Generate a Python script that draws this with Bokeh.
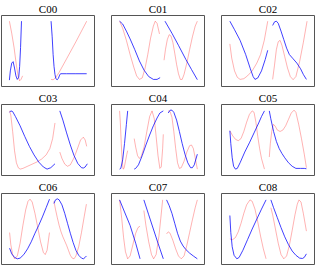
from bokeh.plotting import figure
from bokeh.layouts import gridplot
from bokeh.models import Range1d
from bokeh.embed import file_html
from bokeh.resources import INLINE

titles = ["C00", "C01", "C02", "C03", "C04", "C05", "C06", "C07", "C08"]

c00_blue = [
    [(8.5, 9), (9.5, 22), (11, 33), (12.5, 35), (14, 26), (15.5, 15), (17, 10), (18.5, 13), (19.5, 28), (20.5, 55), (21.5, 92)],
    [(53.3, 92), (54.5, 70), (55.5, 45), (56.5, 28), (57.5, 17), (58.5, 11), (59.8, 9.5), (61, 11), (62.5, 16), (63.5, 18), (70, 18), (80, 18), (91.6, 18)],
]
c00_red = [
    [(8.5, 92), (11, 75), (13.5, 55), (16, 30), (18, 14), (19.5, 8), (21, 10), (22.7, 15)],
    [(53.3, 10), (55.5, 9.5), (58, 12), (62, 20), (70, 39), (80, 63), (91.6, 92)],
]
c01_blue = [
    [(8.7, 92), (12, 88), (16, 78), (20, 67), (25, 52), (30, 36), (35, 23), (40, 14), (45, 10), (49, 10), (52.3, 12.5)],
    [(57.5, 92), (65, 75), (72, 58), (80, 38), (86, 24), (92.3, 9.6)],
]
c01_red = [
    [(8.7, 92), (12, 82), (16, 65), (20, 45), (24, 27), (27, 15), (30, 10), (33, 12), (36, 25), (39, 45), (42, 68), (45, 85), (47, 92), (49, 89), (51.6, 74)],
    [(56.5, 37), (58, 52), (60, 66), (62, 73), (64, 71), (66, 62), (68, 47), (70, 31), (72, 18), (74, 10), (76, 10), (78, 17), (81, 33), (84, 52), (87, 70), (90, 85), (92.3, 92)],
]
c02_blue = [
    [(9, 92), (14, 80), (20, 65), (26, 45), (31, 25), (34, 14), (36, 10), (39, 12), (43, 22), (47, 38), (49.7, 51)],
    [(55, 86), (57, 91), (59, 92), (61, 89), (64, 78), (67, 66), (70, 54), (73, 45), (77, 39), (81, 33), (85, 25), (88, 17), (91.3, 10)],
]
c02_red = [
    [(9, 60), (11, 40), (14, 22), (17, 13), (20, 10), (24, 11), (28, 15), (33, 22), (38, 33), (42, 45), (46, 65), (49.7, 92)],
    [(55, 10), (57, 30), (59, 52), (61, 63), (63, 65), (65, 58), (68, 42), (71, 26), (74, 14), (77, 9.6), (80, 14), (84, 35), (88, 62), (92, 92)],
]
c03_blue = [
    [(8.7, 89), (10, 91), (12, 90), (15, 83), (20, 70), (25, 55), (30, 41), (35, 29), (40, 19), (45, 12), (49, 9), (53, 11), (57.5, 16.5)],
    [(62.7, 91), (66, 78), (70, 60), (74, 43), (78, 28), (82, 17), (86, 11), (88, 10.5), (90, 12), (92.3, 16.5)],
]
c03_red = [
    [(8.7, 91), (10, 85), (12, 62), (14, 35), (16, 18), (18, 11), (20, 9), (23, 10), (28, 13), (33, 16), (38, 19), (43, 23), (48, 29), (52, 38), (55, 52), (57.5, 74)],
    [(62.7, 33), (65, 24), (68, 16), (71, 13), (74, 15), (78, 25), (82, 39), (85, 50), (88, 54), (90, 50), (91.6, 41)],
]
c04_blue = [
    [(8.7, 9), (10, 10), (12, 22), (14, 45), (16, 72), (17.4, 91)],
    [(24.4, 9), (26, 10), (29, 15), (33, 28), (37, 43), (41, 57), (45, 70), (49, 81), (52, 88), (55.7, 91)],
    [(61, 88), (63, 92), (65, 92), (67, 89), (70, 78), (73, 62), (76, 45), (79, 30), (82, 18), (85, 11), (87, 11), (89, 15), (92.3, 30)],
]
c04_red = [
    [(8.7, 91), (9.5, 75), (10.5, 45), (11.5, 20), (12.5, 9), (13.5, 10), (15, 20), (16.5, 30), (17.4, 35)],
    [(24.4, 52), (26, 40), (28, 28), (30, 24), (32, 27), (35, 40), (38, 62), (41, 83), (43.6, 91), (46, 80), (48, 55), (50, 28), (52, 10), (53.5, 12), (55, 38), (55.7, 58)],
    [(61, 91), (63, 90), (65, 82), (67, 62), (69, 38), (71, 18), (73, 10), (75, 11), (78, 20), (81, 33), (84, 42), (86, 43), (88, 38), (90, 25), (92.3, 9)],
]
c05_blue = [
    [(9, 63), (10, 45), (11.5, 25), (13, 13), (15, 9), (17, 10), (20, 18), (25, 33), (30, 46), (35, 60), (40, 74), (43, 83), (46.2, 91)],
    [(51.4, 91), (53, 80), (56, 62), (59, 48), (62, 38), (65, 31), (68, 25), (72, 18), (76, 13), (80, 10), (85, 10), (89, 10), (91.3, 9.5)],
]
c05_red = [
    [(9, 63), (12, 56), (15, 51), (18, 49), (21, 52), (24, 62), (27, 75), (30, 86), (33, 91), (35, 89), (37, 75), (39, 55), (41, 38), (43, 24), (46.2, 9)],
    [(51.4, 26), (52.5, 45), (54, 62), (55.6, 72), (57.5, 70), (60, 64), (63, 62), (66, 64), (69, 70), (72, 79), (75, 88), (78, 92), (80, 89), (83, 72), (86, 52), (89, 30), (91.3, 11)],
]
c06_blue = [
    [(8.7, 23), (11, 15), (14, 10), (17, 8), (20, 9), (24, 14), (28, 22), (32, 32), (36, 44), (40, 55), (44, 67), (48, 80), (51.6, 92)],
    [(56.4, 86), (58, 91), (60, 92.5), (62, 91), (65, 84), (68, 72), (71, 58), (74, 44), (77, 31), (80, 20), (83, 13), (86, 9), (88, 8), (90, 10), (91.3, 12)],
]
c06_red = [
    [(8.7, 45), (10, 28), (12, 14), (14, 8), (17, 12), (20, 30), (23, 55), (26, 77), (28.5, 89), (30.7, 92), (33, 88), (36, 72), (39, 52), (42, 32), (45, 17), (47, 14), (49, 20), (51.6, 45)],
    [(56.4, 89), (58, 78), (60, 66), (62, 55), (64, 46), (66, 39), (68, 33), (70, 27), (72, 20), (74, 13), (76, 9), (78, 8), (80, 12), (83, 25), (86, 45), (89, 68), (91.3, 85)],
]
c07_blue = [
    [(8.7, 91), (14, 74), (20, 55), (26, 30), (30.7, 8)],
    [(34.8, 91), (40, 70), (45, 50), (50, 30), (55.7, 8)],
    [(59.2, 91), (62, 83), (65, 72), (68, 58), (71, 44), (74, 33), (77, 26), (80, 21), (84, 16), (88, 12), (92.3, 8)],
]
c07_red = [
    [(8.7, 91), (11, 65), (13, 38), (15, 18), (17.4, 8), (20, 12), (23, 28), (26, 44), (28.5, 52), (30.7, 54)],
    [(34.8, 76), (37, 55), (40, 32), (43, 14), (45.3, 8), (48, 14), (51, 40), (53, 65), (55, 91)],
    [(59.2, 43), (61, 46), (63, 44), (66, 34), (69, 22), (72, 12), (75, 8), (78, 12), (81, 27), (84, 45), (87, 63), (90, 80), (92.3, 91)],
]
c08_blue = [
    [(9, 69), (10, 45), (11.5, 25), (13.5, 13), (16.5, 8), (19, 10), (23, 20), (28, 35), (33, 50), (38, 64), (43, 78), (47.9, 91)],
    [(53.1, 91), (56, 80), (60, 66), (64, 52), (68, 39), (72, 28), (76, 19), (80, 13), (84, 9), (87, 8.5), (89, 10), (91.3, 15)],
]
c08_red = [
    [(9, 36), (12, 35), (15, 38), (18, 46), (21, 58), (24, 72), (27, 84), (30.6, 91), (33, 89), (36, 78), (39, 60), (42, 40), (45, 22), (47.9, 8)],
    [(53.1, 80), (55, 70), (58, 50), (61, 30), (64, 14), (67, 8), (70, 12), (73, 27), (76, 48), (79, 70), (81.5, 85), (83.3, 91), (85.5, 88), (88, 72), (91.3, 47)],
]

blue_series = [c00_blue, c01_blue, c02_blue, c03_blue, c04_blue, c05_blue, c06_blue, c07_blue, c08_blue]
red_series = [c00_red, c01_red, c02_red, c03_red, c04_red, c05_red, c06_red, c07_red, c08_red]


def split(segs):
    xs = [[pt[0] for pt in s] for s in segs]
    ys = [[pt[1] for pt in s] for s in segs]
    return xs, ys


figs = []
for i, name in enumerate(titles):
    r, c = divmod(i, 3)
    left = 1 if c == 0 else 9
    right = 1 if c == 2 else 8
    bottom = 1 if r == 2 else 3
    p = figure(
        frame_width=93, frame_height=71,
        x_range=Range1d(0, 100), y_range=Range1d(0, 100),
        x_axis_type=None, y_axis_type=None,
        output_backend="svg", toolbar_location=None,
        min_border_left=left, min_border_right=right,
        min_border_top=0, min_border_bottom=bottom,
        title=name,
    )
    p.title.text_font = "Liberation Serif"
    p.title.text_font_style = "normal"
    p.title.text_font_size = "11px"
    p.title.align = "center"
    p.title.standoff = 1
    p.title.text_color = "#000000"
    p.outline_line_color = "#555555"
    p.outline_line_width = 1
    p.outline_line_alpha = 1
    p.background_fill_color = "white"
    p.border_fill_color = "white"
    rx, ry = split(red_series[i])
    bx, by = split(blue_series[i])
    p.multi_line(rx, ry, line_color="red", line_alpha=0.3, line_width=1)
    p.multi_line(bx, by, line_color="blue", line_alpha=0.75, line_width=1)
    figs.append(p)

grid = gridplot([figs[0:3], figs[3:6], figs[6:9]], toolbar_location=None)

open("out.html", "w").write(file_html(grid, INLINE))
